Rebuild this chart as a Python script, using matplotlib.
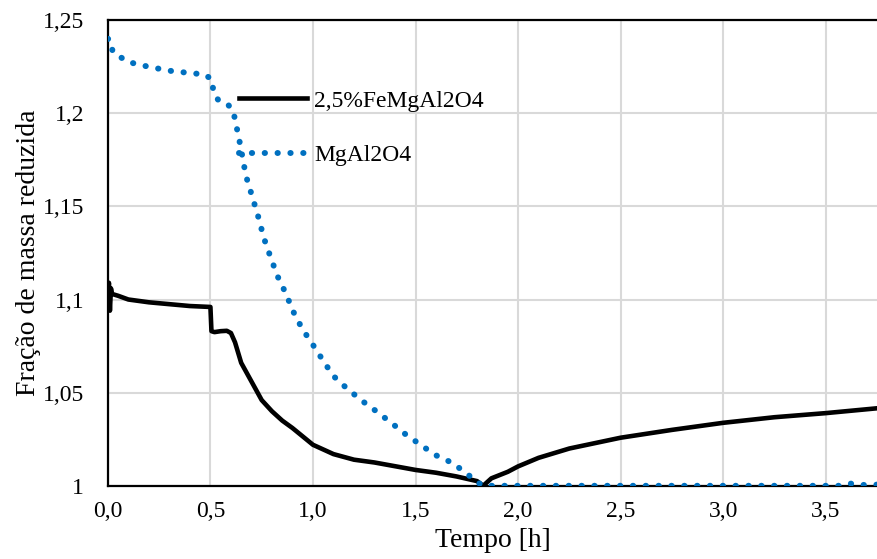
import matplotlib.pyplot as plt
from matplotlib.ticker import FuncFormatter

plt.rcParams["font.family"] = ["Liberation Serif", "DejaVu Serif"]

# 2,5%FeMgAl2O4 (black solid)
t_fe = [0.0, 0.005, 0.01, 0.015, 0.02, 0.05, 0.1, 0.2, 0.3, 0.4, 0.5, 0.505,
        0.52, 0.55, 0.58, 0.6, 0.62, 0.65, 0.68, 0.7, 0.75, 0.8, 0.85, 0.9,
        1.0, 1.1, 1.2, 1.3, 1.4, 1.5, 1.6, 1.7, 1.8, 1.83, 1.87, 1.95, 2.0,
        2.1, 2.25, 2.5, 2.75, 3.0, 3.25, 3.5, 3.75]
m_fe = [1.098, 1.109, 1.094, 1.106, 1.103, 1.102, 1.100, 1.0985, 1.0975,
        1.0965, 1.096, 1.083, 1.0825, 1.083, 1.0832, 1.082, 1.077, 1.066,
        1.060, 1.056, 1.046, 1.040, 1.035, 1.031, 1.022, 1.017, 1.014, 1.0125,
        1.0105, 1.0085, 1.007, 1.005, 1.0025, 1.000, 1.004, 1.0075, 1.0104,
        1.015, 1.020, 1.0258, 1.030, 1.0338, 1.0368, 1.039, 1.0416]

# MgAl2O4 (blue dotted)
t_mg = [0.0, 0.015, 0.023, 0.096, 0.197, 0.302, 0.416, 0.473, 0.509, 0.514,
        0.538, 0.584, 0.611, 0.623, 0.644, 0.673, 0.704, 0.733, 0.761, 0.794,
        0.826, 0.867, 0.904, 0.948, 0.998, 1.047, 1.099, 1.164, 1.237, 1.31,
        1.384, 1.454, 1.525, 1.595, 1.681, 1.757, 1.795, 1.831, 2.5, 3.0,
        3.58, 3.62, 3.66, 3.75]
m_mg = [1.240, 1.239, 1.233, 1.2276, 1.225, 1.2228, 1.2214, 1.2209, 1.2178,
        1.2115, 1.2071, 1.2049, 1.2012, 1.1951, 1.1838, 1.1665, 1.1552,
        1.1445, 1.1329, 1.1225, 1.1128, 1.1034, 1.0935, 1.0842, 1.076, 1.0676,
        1.059, 1.0524, 1.0458, 1.0399, 1.0336, 1.0274, 1.022, 1.0166, 1.0122,
        1.0059, 1.0023, 1.000, 1.000, 1.000, 1.000, 1.0012, 1.0004, 1.0006]

x_ticks = [0.0, 0.5, 1.0, 1.5, 2.0, 2.5, 3.0, 3.5]
y_ticks = [1.0, 1.05, 1.1, 1.15, 1.2, 1.25]

fig = plt.figure(figsize=(8.77, 5.59), dpi=100)
ax = fig.add_axes([0.123, 0.131, 0.877, 0.833])

ax.plot(t_fe, m_fe, color="black", lw=3.3, solid_joinstyle="round",
        label="2,5%FeMgAl2O4", zorder=3)
ax.plot(t_mg, m_mg, color="#0070c0", lw=4.3, linestyle=(0, (0.05, 2.1)),
        dash_capstyle="round", label="MgAl2O4", zorder=4)

ax.set_xlim(0, 3.75)
ax.set_ylim(1.0, 1.25)
ax.set_xticks(x_ticks)
ax.set_yticks(y_ticks)
ax.xaxis.set_major_formatter(FuncFormatter(lambda v, p: f"{v:.1f}".replace(".", ",")))
ax.yaxis.set_major_formatter(FuncFormatter(lambda v, p: f"{v:g}".replace(".", ",")))
ax.tick_params(length=0, labelsize=17)
ax.tick_params(axis="x", pad=11)
ax.tick_params(axis="y", pad=17)
ax.grid(True, color="#d9d9d9", lw=1.5)
ax.set_axisbelow(True)

for side in ("left", "top", "bottom"):
    ax.spines[side].set_color("black")
    ax.spines[side].set_linewidth(1.6)
ax.spines["right"].set_visible(False)

ax.set_xlabel("Tempo [h]", fontsize=20, labelpad=4)
ax.set_ylabel("Fração de massa reduzida", fontsize=20, labelpad=1)

ax.legend(loc="upper left", bbox_to_anchor=(0.158, 0.87), frameon=False,
          fontsize=17, handlelength=2.9, handletextpad=0.3, labelspacing=1.4,
          borderaxespad=0)

fig.savefig("out.png", dpi=100)
